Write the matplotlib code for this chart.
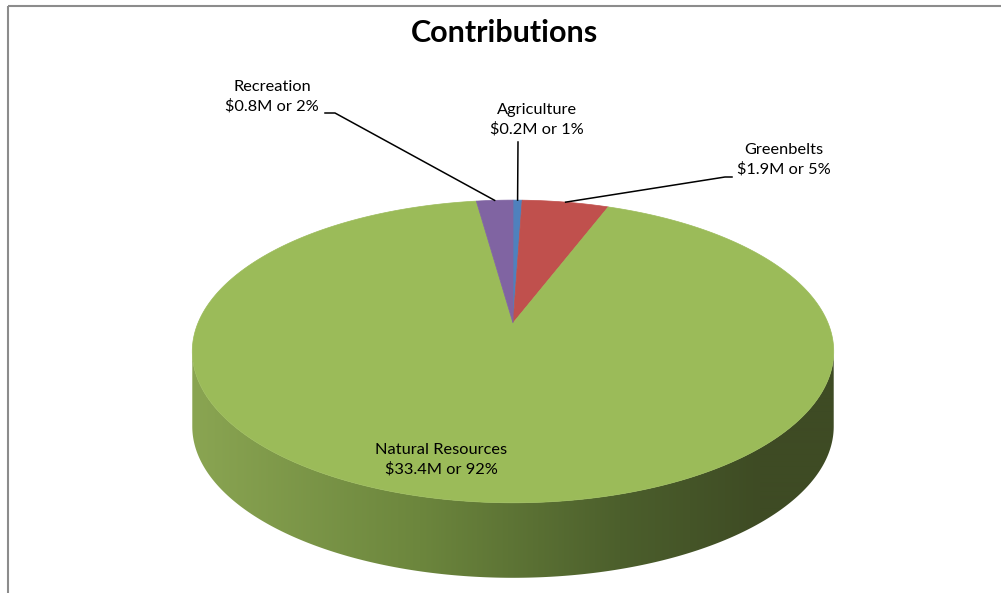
import matplotlib.pyplot as plt
import numpy as np
from matplotlib.patches import Polygon, Rectangle

# data, in clockwise order from 12 o'clock
categories = ['Agriculture', 'Greenbelts', 'Natural Resources', 'Recreation']
values = [0.2, 1.9, 33.4, 0.8]          # $M
pct_labels = ['1%', '5%', '92%', '2%']
colors = ['#4F81BD', '#C0504D', '#9BBB59', '#8064A2']

# pie geometry in pixel space (Excel style 3-D pie with perspective)
CX, CY = 513, 323
A, B, K = 315, 146, 0.188
DEPTH = 75


def rim(phi):
    """project a point of the unit circle (angle in rad) onto the tilted top face"""
    w = 1 + K * np.sin(phi)
    return CX + A * np.cos(phi) / w, CY - B * np.sin(phi) / w


fig = plt.figure(figsize=(10.01, 5.93), dpi=100)
ax = fig.add_axes([0, 0, 1, 1])
ax.set_xlim(0, 1001)
ax.set_ylim(593, 0)
ax.axis('off')

# chart frame
ax.add_patch(Rectangle((8, 6), 1100, 700, fill=False, edgecolor='#8C8C8C', lw=1.5))

# side wall (front half, all of it belongs to the big slice), shaded left to right
phi_l = np.pi + np.arcsin(K)
phi_r = 2 * np.pi - np.arcsin(K)
ph = np.linspace(phi_l, phi_r, 300)
top = np.array([rim(p) for p in ph])
bot = top[::-1] + [0, DEPTH]
side = Polygon(np.vstack([top, bot]), closed=True, facecolor='none', edgecolor='none')
ax.add_patch(side)

gx = np.arange(185, 845)
stops_x = [192, 420, 620, 760, 840]
stops_c = np.array([[0x8A, 0xA5, 0x52], [0x6C, 0x86, 0x3D], [0x4C, 0x5F, 0x2C],
                    [0x3E, 0x4B, 0x24], [0x3E, 0x4B, 0x24]]) / 255
grad = np.stack([np.interp(gx, stops_x, stops_c[:, i]) for i in range(3)], axis=-1)
img = ax.imshow(grad[None, :, :], extent=(185, 845, 600, 330), aspect='auto',
                interpolation='bilinear')
img.set_clip_path(side)

# top face wedges
total = sum(values)
start = np.pi / 2
mids = []
for v, c in zip(values, colors):
    sweep = 2 * np.pi * v / total
    ts = np.linspace(start, start - sweep, max(int(sweep * 60), 4))
    pts = [(CX, CY)] + [rim(t) for t in ts]
    ax.add_patch(Polygon(pts, closed=True, facecolor=c, edgecolor=c, lw=0.5, zorder=3))
    mids.append(start - sweep / 2)
    start -= sweep

# title
ax.text(505, 33, 'Contributions', ha='center', va='center', fontsize=22,
        fontweight='bold', family='Lato')

# labels and leader lines
label_pos = {
    'Agriculture': (537, 120),
    'Greenbelts': (784, 160),
    'Natural Resources': (441, 460),
    'Recreation': (272, 97),
}
leader_pts = {
    'Agriculture': [(518, 142)],
    'Greenbelts': [(732, 177), (725, 177)],
    'Recreation': [(325, 113), (335, 113)],
}
for name, v, p, mid in zip(categories, values, pct_labels, mids):
    lx, ly = label_pos[name]
    ax.text(lx, ly, f'{name}\n${v:.1f}M or {p}', ha='center', va='center',
            fontsize=11.8, family='Lato', linespacing=1.42, zorder=5)
    if name in leader_pts:
        ex, ey = rim(mid)
        pts = leader_pts[name] + [(ex, ey)]
        ax.plot([q[0] for q in pts], [q[1] for q in pts], color='black', lw=1.1, zorder=4)

fig.savefig('out.png', dpi=100)
